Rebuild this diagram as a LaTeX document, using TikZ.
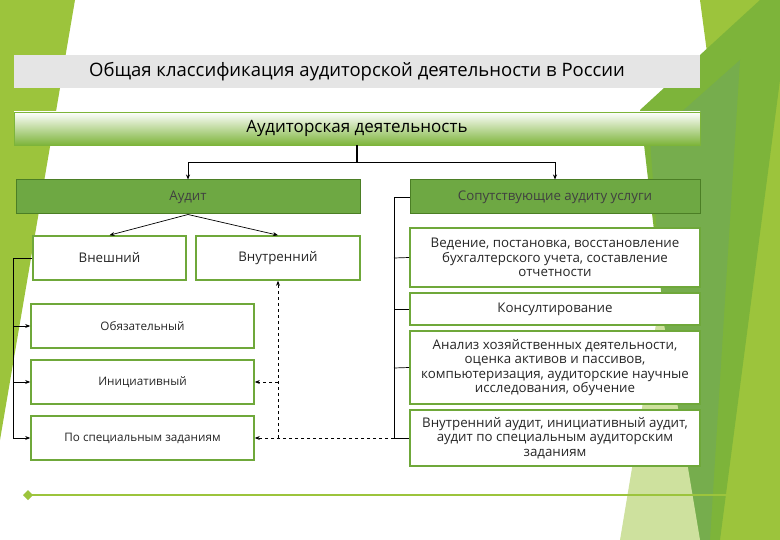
\documentclass[tikz,border=0pt]{standalone}
\usepackage{fontspec}
\setmainfont{Open Sans}
\usetikzlibrary{arrows.meta}
\definecolor{lg}{HTML}{9CC43C}
\definecolor{dg}{HTML}{5E9E2E}
\definecolor{mg}{HTML}{7DB43A}
\definecolor{bx}{HTML}{6FA83A}
\begin{document}
\begin{tikzpicture}[x=1pt,y=-1pt,
 wbox/.style={draw=bx,line width=1.6pt,fill=white,inner sep=0pt,align=center,font=\fontsize{13.3}{14.5}\selectfont,text=black!85},
 gbox/.style={draw=dg!80!black,line width=1pt,fill=dg!90,inner sep=0pt,align=center,font=\fontsize{13.3}{14.5}\selectfont,text=black!75},
 sbox/.style={wbox,font=\fontsize{11.7}{13}\selectfont},
 con/.style={line width=0.7pt},
 dsh/.style={line width=0.7pt,dashed},
 arr/.style={-{Stealth[length=5pt,width=4pt]}}]
\useasboundingbox (0,0) rectangle (780,540);
\fill[white] (0,0) rectangle (780,540);
% background decoration
\fill[lg] (0,0) -- (75,0) -- (0,440) -- cycle;
\fill[lg] (700,0) -- (780,0) -- (780,540) -- (700,540) -- (740,300) -- cycle;
\fill[mg] (640,110) -- (760,0) -- (780,0) -- (780,80) -- (720,540) -- (690,540) -- cycle;
\fill[dg!85] (650,140) -- (740,60) -- (710,540) -- (680,540) -- cycle;
\fill[lg!50] (660,300) -- (700,540) -- (620,540) -- cycle;
\draw[lg,line width=1.5pt] (28,495) -- (760,495);
\fill[lg] (28,490) -- (33,495) -- (28,500) -- (23,495) -- cycle;
% title
\node[fill=gray!20,minimum width=686pt,minimum height=33pt,inner sep=0pt] (t) at (357,72) {};
\node[font=\fontsize{18.5}{20}\selectfont] (tt) at (357,72) {Общая классификация аудиторской деятельности в России};
\shade[top color=white,bottom color=mg,draw=mg] (14,112) rectangle (700,145);
\node[font=\fontsize{17}{19}\selectfont,inner sep=0pt,minimum width=686pt,minimum height=33pt] (ad) at (357,128.5) {Аудиторская деятельность};
% level 2
\node[gbox,minimum width=344pt,minimum height=34pt] (au) at (188,197) {Аудит};
\node[gbox,minimum width=290pt,minimum height=34pt] (so) at (555,197) {Сопутствующие аудиту услуги};
\node[wbox,minimum width=153pt,minimum height=44pt] (vn) at (109.5,258) {Внешний};
\node[wbox,minimum width=164pt,minimum height=44pt] (vt) at (278,258) {Внутренний};
\node[sbox,minimum width=223pt,minimum height=44pt] (ob) at (142.5,326) {Обязательный};
\node[sbox,minimum width=223pt,minimum height=44pt] (in) at (142.5,382) {Инициативный};
\node[sbox,minimum width=223pt,minimum height=44pt] (ps) at (142.5,438) {По специальным заданиям};
\node[wbox,minimum width=290pt,minimum height=59pt] (r1) at (555,257.5) {Ведение, постановка, восстановление\\бухгалтерского учета, составление\\отчетности};
\node[wbox,minimum width=290pt,minimum height=32pt] (r2) at (555,309) {Консултирование};
\node[wbox,minimum width=290pt,minimum height=73pt] (r3) at (555,367.5) {Анализ хозяйственных деятельности,\\оценка активов и пассивов,\\компьютеризация, аудиторские научные\\исследования, обучение};
\node[wbox,minimum width=290pt,minimum height=56pt] (r4) at (555,438) {Внутренний аудит, инициативный аудит,\\аудит по специальным аудиторским\\заданиям};
% connectors
\coordinate (j) at (357,162);
\draw[line width=1.2pt] (ad.south) -- (j);
\draw[con,arr] (j) -| (au.north);
\draw[con,arr] (j) -| (so.north);
\draw[con,arr] (au.south) -- (vn.north);
\draw[con,arr] (au.south) -- (vt.north);
\coordinate (lb) at (13,258);
\draw[con] (vn.west) -- (lb) -- (13,438);
\draw[con,arr] (13,326) -- (ob.west);
\draw[con,arr] (13,382) -- (in.west);
\draw[con,arr] (13,438) -- (ps.west);
\draw[con] (so.west) -- (394,197) -- (394,438) -- (r4.west);
\draw[con] (394,258) -- (r1.west);
\draw[con] (394,309) -- (r2.west);
\draw[con] (394,368) -- (r3.west);
\draw[dsh,arr] (278,438) -- (vt.south);
\draw[dsh,arr] (278,382) -- (in.east);
\draw[dsh,arr] (394,438) -- (ps.east);
\end{tikzpicture}
\end{document}
